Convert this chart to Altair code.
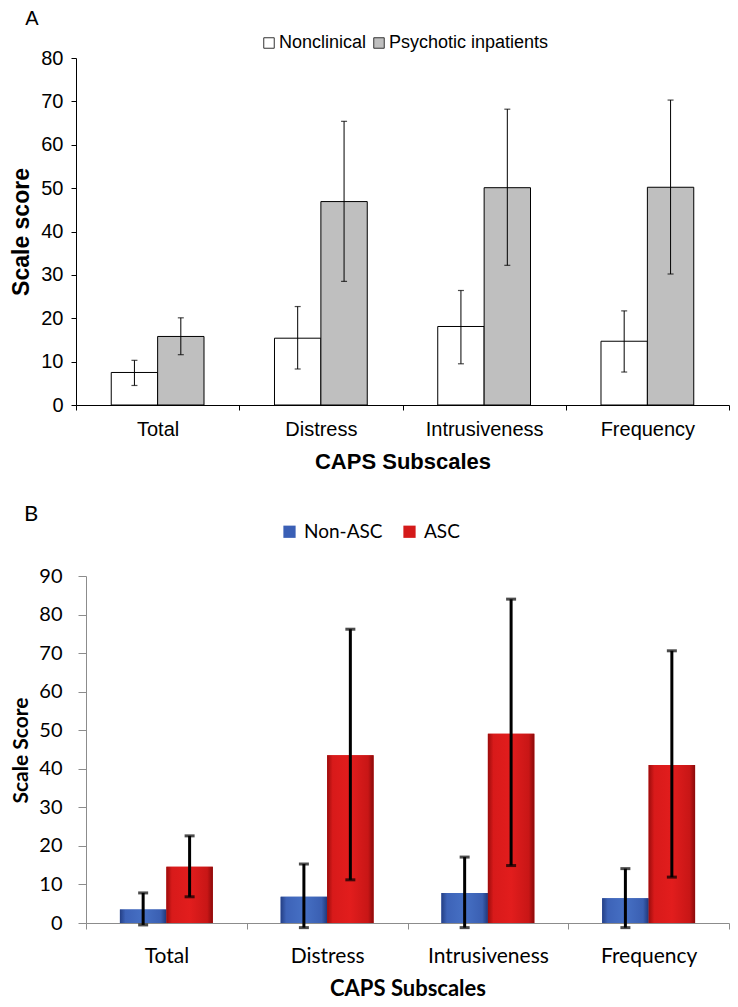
import altair as alt
import pandas as pd

categories = ["Total", "Distress", "Intrusiveness", "Frequency"]
panel_labels = ["A", "B"]

# Panel A
a_groups = ["Nonclinical", "Psychotic inpatients"]
a_nonclinical = [7.5, 15.4, 18.1, 14.7]
a_nonclinical_lo = [4.5, 8.3, 9.5, 7.6]
a_nonclinical_hi = [10.3, 22.7, 26.4, 21.7]
a_psychotic = [15.8, 46.9, 50.1, 50.2]
a_psychotic_lo = [11.6, 28.5, 32.2, 30.2]
a_psychotic_hi = [20.1, 65.4, 68.2, 70.3]

# Panel B
b_groups = ["Non-ASC", "ASC"]
b_nonasc = [3.5, 6.8, 7.8, 6.4]
b_nonasc_lo = [-0.5, -1.2, -1.2, -1.2]
b_nonasc_hi = [7.8, 15.3, 17.1, 14.1]
b_asc = [14.6, 43.5, 49.1, 41.0]
b_asc_lo = [6.8, 11.2, 14.9, 11.9]
b_asc_hi = [22.6, 76.2, 84.0, 70.6]


def make_df(groups, vals, los, his):
    rows = []
    for g, v, lo, hi in zip(groups, vals, los, his):
        for c, a, b, d in zip(categories, v, lo, hi):
            rows.append({"category": c, "group": g, "value": a, "lo": b, "hi": d})
    return pd.DataFrame(rows)


dfA = make_df(a_groups, [a_nonclinical, a_psychotic],
              [a_nonclinical_lo, a_psychotic_lo], [a_nonclinical_hi, a_psychotic_hi])
dfB = make_df(b_groups, [b_nonasc, b_asc],
              [b_nonasc_lo, b_asc_lo], [b_nonasc_hi, b_asc_hi])

FA = "Liberation Sans"
FB = "Lato"

W = 653          # common plot width (both panels start at the same x)
HA = 347
HB = 347
SHIFT_B = 10     # panel B's axis sits 10px right of panel A's

# ---------------- Panel A ----------------
xA = alt.X("category:N", sort=categories,
           scale=alt.Scale(paddingInner=0, paddingOuter=0),
           axis=alt.Axis(title="CAPS Subscales", labelAngle=0, tickBand="extent",
                         tickSize=5, domainColor="black", tickColor="black",
                         labelFont=FA, labelFontSize=20, labelColor="black", labelPadding=9,
                         titleFont=FA, titleFontSize=22, titleFontWeight="bold",
                         titleColor="black", titlePadding=12))
xoA = alt.XOffset("group:N", sort=a_groups,
                  scale=alt.Scale(paddingOuter=0.76, paddingInner=0))
yA_axis = alt.Axis(title="Scale score", values=list(range(0, 81, 10)), grid=False,
                   tickSize=5, domainColor="black", tickColor="black",
                   labelFont=FA, labelFontSize=20, labelColor="black", labelPadding=8,
                   titleFont=FA, titleFontSize=23, titleFontWeight="bold",
                   titleColor="black", titleX=-54.5, titleY=HA / 2,
                   titleBaseline="middle", titleAlign="center", titleAngle=270)
yA_scale = alt.Scale(domain=[0, 80])

baseA = alt.Chart(dfA)
barsA = baseA.mark_bar(stroke="black", strokeWidth=1).encode(
    x=xA, xOffset=xoA,
    y=alt.Y("value:Q", scale=yA_scale, axis=yA_axis),
    color=alt.Color("group:N", sort=a_groups,
                    scale=alt.Scale(domain=a_groups, range=["white", "#bfbfbf"]),
                    legend=alt.Legend(orient="none", legendX=184, legendY=-24,
                                      direction="horizontal", title=None,
                                      symbolType="square", symbolSize=110,
                                      symbolStrokeColor="#333", symbolStrokeWidth=1,
                                      labelFont=FA, labelFontSize=18, labelColor="black",
                                      labelOffset=1, columnPadding=3, padding=0)),
)
ruleA = baseA.mark_rule(color="black", strokeWidth=1).encode(
    x=xA, xOffset=xoA, y=alt.Y("lo:Q", scale=yA_scale, axis=yA_axis), y2="hi:Q")
capA_hi = baseA.mark_tick(color="black", size=6, thickness=1.2).encode(
    x=xA, xOffset=xoA, y=alt.Y("hi:Q", scale=yA_scale, axis=yA_axis))
capA_lo = baseA.mark_tick(color="black", size=6, thickness=1.2).encode(
    x=xA, xOffset=xoA, y=alt.Y("lo:Q", scale=yA_scale, axis=yA_axis))
labA = alt.Chart(pd.DataFrame({"t": [panel_labels[0]]})).mark_text(
    font=FA, fontSize=20, color="black", align="center", baseline="middle").encode(
    text="t:N", x=alt.value(-44), y=alt.value(-39.5))

panelA = alt.layer(barsA, ruleA, capA_hi, capA_lo, labA).properties(width=W, height=HA)

# ---------------- Panel B ----------------
xB = alt.X("category:N", sort=categories,
           scale=alt.Scale(paddingInner=0, paddingOuter=0, range=[SHIFT_B, W]),
           axis=alt.Axis(title="CAPS Subscales", labelAngle=0, tickBand="extent",
                         tickSize=6, domainColor="#8c8c8c", tickColor="#8c8c8c",
                         labelFont=FB, labelFontSize=21, labelColor="black", labelPadding=16,
                         titleFont=FB, titleFontSize=22, titleFontWeight="bold",
                         titleColor="black", titlePadding=12))
xoB = alt.XOffset("group:N", sort=b_groups,
                  scale=alt.Scale(paddingOuter=0.73, paddingInner=0))
yB_axis = alt.Axis(title="Scale Score", values=list(range(0, 91, 10)), grid=False,
                   offset=-SHIFT_B,
                   tickSize=8, domainColor="#8c8c8c", tickColor="#8c8c8c",
                   labelFont=FB, labelFontSize=20, labelColor="black", labelPadding=16,
                   titleFont=FB, titleFontSize=21, titleFontWeight="bold",
                   titleColor="black", titleX=-64.5, titleY=174,
                   titleBaseline="middle", titleAlign="center", titleAngle=270)
yB_scale = alt.Scale(domain=[0, 90])
yB = alt.Y("value:Q", scale=yB_scale, axis=yB_axis)

baseB = alt.Chart(dfB)
barsB = baseB.mark_bar().encode(
    x=xB, xOffset=xoB, y=yB,
    color=alt.Color("group:N", sort=b_groups,
                    scale=alt.Scale(domain=b_groups, range=["#3a5fb5", "#d41a1a"]),
                    legend=alt.Legend(orient="none", legendX=204, legendY=-54,
                                      direction="horizontal", title=None,
                                      symbolType="square", symbolSize=150,
                                      labelFont=FB, labelFontSize=19, labelColor="black",
                                      labelOffset=5, columnPadding=17, padding=0)),
)
grad_blue = alt.Gradient(gradient="linear", x1=0, x2=1, y1=0, y2=0, stops=[
    alt.GradientStop(offset=0, color="#243f85"),
    alt.GradientStop(offset=0.12, color="#3d63b8"),
    alt.GradientStop(offset=0.5, color="#4670c4"),
    alt.GradientStop(offset=0.88, color="#3a5fb2"),
    alt.GradientStop(offset=1, color="#20387a")])
grad_red = alt.Gradient(gradient="linear", x1=0, x2=1, y1=0, y2=0, stops=[
    alt.GradientStop(offset=0, color="#9c0c0c"),
    alt.GradientStop(offset=0.12, color="#d81a1a"),
    alt.GradientStop(offset=0.5, color="#e21d1d"),
    alt.GradientStop(offset=0.88, color="#c81616"),
    alt.GradientStop(offset=1, color="#8a0a0a")])
blueB = baseB.transform_filter(alt.datum.group == b_groups[0]).mark_bar(color=grad_blue).encode(
    x=xB, xOffset=xoB, y=yB)
redB = baseB.transform_filter(alt.datum.group == b_groups[1]).mark_bar(color=grad_red).encode(
    x=xB, xOffset=xoB, y=yB)
ruleB = baseB.mark_rule(color="black", strokeWidth=3).encode(
    x=xB, xOffset=xoB, y=alt.Y("lo:Q", scale=yB_scale, axis=yB_axis), y2="hi:Q")
capB_hi = baseB.mark_tick(color="black", size=10, thickness=3).encode(
    x=xB, xOffset=xoB, y=alt.Y("hi:Q", scale=yB_scale, axis=yB_axis))
capB_lo = baseB.mark_tick(color="black", size=10, thickness=3).encode(
    x=xB, xOffset=xoB, y=alt.Y("lo:Q", scale=yB_scale, axis=yB_axis))
labB = alt.Chart(pd.DataFrame({"t": [panel_labels[1]]})).mark_text(
    font=FB, fontSize=22, color="black", align="center", baseline="middle").encode(
    text="t:N", x=alt.value(-45), y=alt.value(-62))

panelB = alt.layer(barsB, blueB, redB, ruleB, capB_hi, capB_lo, labB).properties(
    width=W, height=HB)

chart = alt.vconcat(panelA, panelB, spacing=31).resolve_scale(
    x="independent", y="independent", color="independent", xOffset="independent"
).properties(padding={"left": 2, "top": 0, "right": 0, "bottom": 0}).configure_view(stroke=None)

chart.save("out.html", embed_options={"renderer": "svg", "actions": False})
